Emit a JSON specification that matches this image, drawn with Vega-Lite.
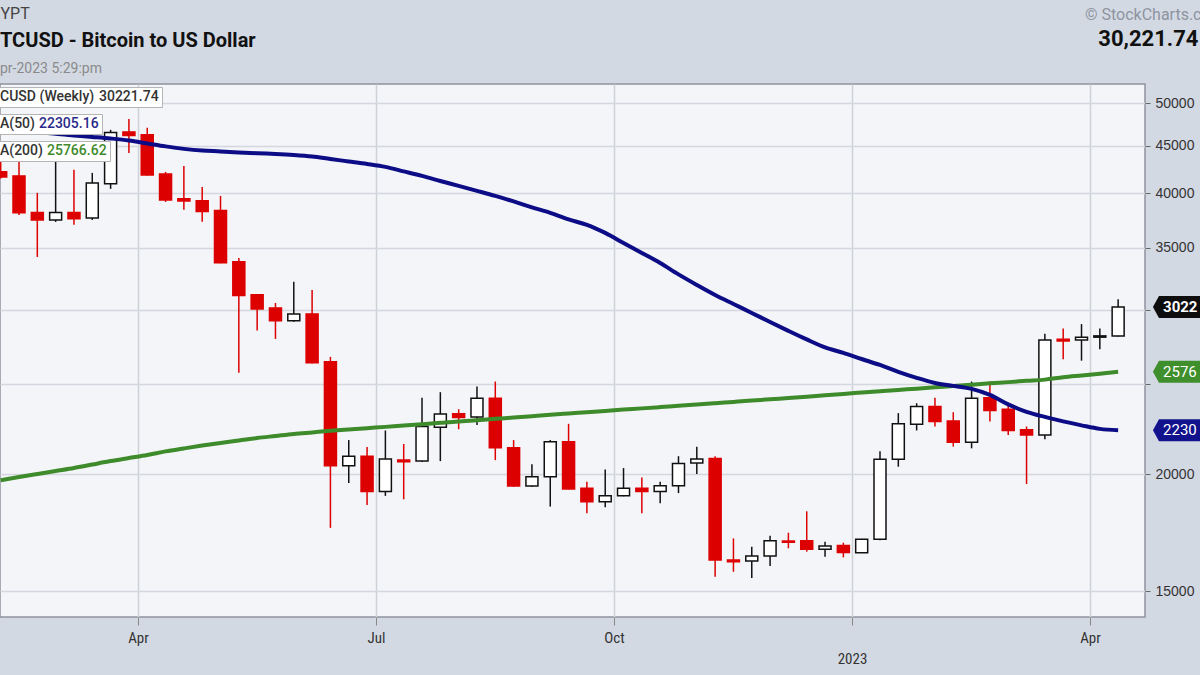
{
  "$schema": "https://vega.github.io/schema/vega-lite/v6.json",
  "width": 1145,
  "height": 533,
  "autosize": "none",
  "padding": {"left": 0, "top": 84, "right": 55, "bottom": 58},
  "background": "#d3d9e3",
  "view": {"fill": "#f4f5f9", "stroke": "#8e939c", "strokeWidth": 1.5},
  "config": {"font": "Roboto"},
  "title": {
    "text": "TCUSD - Bitcoin to US Dollar",
    "subtitle": "pr-2023 5:29:pm",
    "anchor": "start",
    "frame": "group",
    "offset": 10,
    "dy": 81,
    "font": "Roboto",
    "fontSize": 20,
    "fontWeight": "bold",
    "color": "#111111",
    "subtitleFont": "Roboto",
    "subtitleFontSize": 14,
    "subtitleColor": "#8a8a8a",
    "subtitlePadding": 11
  },
  "data": {"values": [
    {"date": "2022-02-07T00:00:00", "open": 42190, "high": 45000, "low": 41500, "close": 41660, "ma50": 47030, "ma200": 19720},
    {"date": "2022-02-14T00:00:00", "open": 41770, "high": 44700, "low": 37940, "close": 38130, "ma50": 46800, "ma200": 19870},
    {"date": "2022-02-21T00:00:00", "open": 38160, "high": 40060, "low": 34200, "close": 37470, "ma50": 46570, "ma200": 20020},
    {"date": "2022-02-28T00:00:00", "open": 37470, "high": 45300, "low": 37290, "close": 38160, "ma50": 46335, "ma200": 20170},
    {"date": "2022-03-07T00:00:00", "open": 38160, "high": 42400, "low": 37020, "close": 37590, "ma50": 46160, "ma200": 20320},
    {"date": "2022-03-14T00:00:00", "open": 37660, "high": 42080, "low": 37470, "close": 41050, "ma50": 45990, "ma200": 20495},
    {"date": "2022-03-21T00:00:00", "open": 40980, "high": 46800, "low": 40455, "close": 46480, "ma50": 45810, "ma200": 20670},
    {"date": "2022-03-28T00:00:00", "open": 46560, "high": 48070, "low": 44210, "close": 46140, "ma50": 45585, "ma200": 20825},
    {"date": "2022-04-04T00:00:00", "open": 46220, "high": 47030, "low": 41800, "close": 41870, "ma50": 45255, "ma200": 20980},
    {"date": "2022-04-11T00:00:00", "open": 41975, "high": 42190, "low": 39170, "close": 39360, "ma50": 44925, "ma200": 21170},
    {"date": "2022-04-18T00:00:00", "open": 39490, "high": 42810, "low": 38415, "close": 39265, "ma50": 44650, "ma200": 21325},
    {"date": "2022-04-25T00:00:00", "open": 39290, "high": 40650, "low": 37310, "close": 38255, "ma50": 44465, "ma200": 21475},
    {"date": "2022-05-02T00:00:00", "open": 38350, "high": 39760, "low": 33670, "close": 33720, "ma50": 44375, "ma200": 21615},
    {"date": "2022-05-09T00:00:00", "open": 33800, "high": 34110, "low": 25710, "close": 31100, "ma50": 44265, "ma200": 21745},
    {"date": "2022-05-16T00:00:00", "open": 31160, "high": 31200, "low": 28520, "close": 30084, "ma50": 44175, "ma200": 21880},
    {"date": "2022-05-23T00:00:00", "open": 30160, "high": 30530, "low": 27940, "close": 29220, "ma50": 44100, "ma200": 21990},
    {"date": "2022-05-30T00:00:00", "open": 29220, "high": 32170, "low": 29150, "close": 29720, "ma50": 43990, "ma200": 22100},
    {"date": "2022-06-06T00:00:00", "open": 29720, "high": 31520, "low": 26300, "close": 26350, "ma50": 43825, "ma200": 22185},
    {"date": "2022-06-13T00:00:00", "open": 26410, "high": 26730, "low": 17530, "close": 20435, "ma50": 43550, "ma200": 22270},
    {"date": "2022-06-20T00:00:00", "open": 20435, "high": 21770, "low": 19580, "close": 20920, "ma50": 43285, "ma200": 22345},
    {"date": "2022-06-27T00:00:00", "open": 20920, "high": 21400, "low": 18550, "close": 19170, "ma50": 43020, "ma200": 22420},
    {"date": "2022-07-04T00:00:00", "open": 19170, "high": 22290, "low": 18970, "close": 20770, "ma50": 42710, "ma200": 22490},
    {"date": "2022-07-11T00:00:00", "open": 20720, "high": 21560, "low": 18810, "close": 20635, "ma50": 42240, "ma200": 22570},
    {"date": "2022-07-18T00:00:00", "open": 20670, "high": 24170, "low": 20620, "close": 22510, "ma50": 41770, "ma200": 22640},
    {"date": "2022-07-25T00:00:00", "open": 22475, "high": 24500, "low": 20670, "close": 23210, "ma50": 41250, "ma200": 22715},
    {"date": "2022-08-01T00:00:00", "open": 23230, "high": 23490, "low": 22360, "close": 23010, "ma50": 40755, "ma200": 22790},
    {"date": "2022-08-08T00:00:00", "open": 23050, "high": 24840, "low": 22600, "close": 24130, "ma50": 40260, "ma200": 22865},
    {"date": "2022-08-15T00:00:00", "open": 24130, "high": 25150, "low": 20720, "close": 21365, "ma50": 39760, "ma200": 22940},
    {"date": "2022-08-22T00:00:00", "open": 21365, "high": 21770, "low": 19400, "close": 19440, "ma50": 39220, "ma200": 23010},
    {"date": "2022-08-29T00:00:00", "open": 19440, "high": 20505, "low": 19400, "close": 19885, "ma50": 38650, "ma200": 23085},
    {"date": "2022-09-05T00:00:00", "open": 19885, "high": 21770, "low": 18475, "close": 21680, "ma50": 38130, "ma200": 23170},
    {"date": "2022-09-12T00:00:00", "open": 21680, "high": 22660, "low": 19280, "close": 19300, "ma50": 37515, "ma200": 23245},
    {"date": "2022-09-19T00:00:00", "open": 19330, "high": 19640, "low": 18170, "close": 18700, "ma50": 37020, "ma200": 23320},
    {"date": "2022-09-26T00:00:00", "open": 18700, "high": 20250, "low": 18450, "close": 18980, "ma50": 36290, "ma200": 23395},
    {"date": "2022-10-03T00:00:00", "open": 18980, "high": 20315, "low": 18950, "close": 19330, "ma50": 35400, "ma200": 23470},
    {"date": "2022-10-10T00:00:00", "open": 19330, "high": 19850, "low": 18170, "close": 19170, "ma50": 34540, "ma200": 23540},
    {"date": "2022-10-17T00:00:00", "open": 19170, "high": 19640, "low": 18630, "close": 19450, "ma50": 33695, "ma200": 23615},
    {"date": "2022-10-24T00:00:00", "open": 19450, "high": 20920, "low": 19100, "close": 20550, "ma50": 32760, "ma200": 23695},
    {"date": "2022-10-31T00:00:00", "open": 20570, "high": 21420, "low": 20020, "close": 20770, "ma50": 31920, "ma200": 23770},
    {"date": "2022-11-07T00:00:00", "open": 20800, "high": 20920, "low": 15540, "close": 16190, "ma50": 31140, "ma200": 23845},
    {"date": "2022-11-14T00:00:00", "open": 16190, "high": 17080, "low": 15730, "close": 16125, "ma50": 30455, "ma200": 23920},
    {"date": "2022-11-21T00:00:00", "open": 16150, "high": 16730, "low": 15490, "close": 16350, "ma50": 29790, "ma200": 23995},
    {"date": "2022-11-28T00:00:00", "open": 16350, "high": 17190, "low": 15960, "close": 16980, "ma50": 29130, "ma200": 24075},
    {"date": "2022-12-05T00:00:00", "open": 16970, "high": 17320, "low": 16670, "close": 16920, "ma50": 28500, "ma200": 24150},
    {"date": "2022-12-12T00:00:00", "open": 16980, "high": 18260, "low": 16530, "close": 16630, "ma50": 27905, "ma200": 24230},
    {"date": "2022-12-19T00:00:00", "open": 16630, "high": 16940, "low": 16320, "close": 16760, "ma50": 27365, "ma200": 24310},
    {"date": "2022-12-26T00:00:00", "open": 16780, "high": 16900, "low": 16300, "close": 16500, "ma50": 26995, "ma200": 24395},
    {"date": "2023-01-02T00:00:00", "open": 16490, "high": 17060, "low": 16490, "close": 17050, "ma50": 26590, "ma200": 24475},
    {"date": "2023-01-09T00:00:00", "open": 17050, "high": 21180, "low": 17000, "close": 20760, "ma50": 26200, "ma200": 24555},
    {"date": "2023-01-16T00:00:00", "open": 20760, "high": 23265, "low": 20385, "close": 22660, "ma50": 25760, "ma200": 24635},
    {"date": "2023-01-23T00:00:00", "open": 22640, "high": 23840, "low": 22290, "close": 23645, "ma50": 25380, "ma200": 24715},
    {"date": "2023-01-30T00:00:00", "open": 23645, "high": 24170, "low": 22510, "close": 22790, "ma50": 25065, "ma200": 24795},
    {"date": "2023-02-06T00:00:00", "open": 22820, "high": 23320, "low": 21420, "close": 21650, "ma50": 24885, "ma200": 24880},
    {"date": "2023-02-13T00:00:00", "open": 21650, "high": 25150, "low": 21330, "close": 24130, "ma50": 24700, "ma200": 24960},
    {"date": "2023-02-20T00:00:00", "open": 24170, "high": 25150, "low": 22790, "close": 23410, "ma50": 24335, "ma200": 25040},
    {"date": "2023-02-27T00:00:00", "open": 23490, "high": 23840, "low": 22040, "close": 22290, "ma50": 23770, "ma200": 25115},
    {"date": "2023-03-06T00:00:00", "open": 22330, "high": 22510, "low": 19530, "close": 22040, "ma50": 23340, "ma200": 25195},
    {"date": "2023-03-13T00:00:00", "open": 22040, "high": 28290, "low": 21810, "close": 27870, "ma50": 23050, "ma200": 25270},
    {"date": "2023-03-20T00:00:00", "open": 27920, "high": 28660, "low": 26570, "close": 27800, "ma50": 22795, "ma200": 25420},
    {"date": "2023-03-27T00:00:00", "open": 27870, "high": 28980, "low": 26480, "close": 28060, "ma50": 22575, "ma200": 25530},
    {"date": "2023-04-03T00:00:00", "open": 28060, "high": 28660, "low": 27240, "close": 28150, "ma50": 22380, "ma200": 25640},
    {"date": "2023-04-10T00:00:00", "open": 28150, "high": 30820, "low": 28100, "close": 30221.74, "ma50": 22305.16, "ma200": 25766.62}
  ]},
  "encoding": {
    "x": {
      "field": "date",
      "type": "temporal",
      "scale": {"padding": 0, "domain": [
        {"year": 2022, "month": 2, "date": 6, "hours": 17, "minutes": 45},
        {"year": 2023, "month": 4, "date": 20, "hours": 6, "minutes": 15}
      ]},
      "axis": {
        "values": [
          {"year": 2022, "month": 3, "date": 31, "hours": 11},
          {"year": 2022, "month": 6, "date": 30, "hours": 10},
          {"year": 2022, "month": 9, "date": 29, "hours": 9},
          {"year": 2022, "month": 12, "date": 29, "hours": 7},
          {"year": 2023, "month": 3, "date": 30, "hours": 6}
        ],
        "labelExpr": "month(datum.value) == 11 ? ['', '2023'] : month(datum.value) == 2 ? 'Apr' : month(datum.value) == 5 ? 'Jul' : 'Oct'",
        "grid": true,
        "gridColor": "#cdd1d8",
        "gridWidth": 1.5,
        "domain": false,
        "tickSize": 8,
        "tickColor": "#888888",
        "labelFont": "Liberation Sans Narrow, Roboto Condensed, Liberation Sans",
        "labelFontSize": 15,
        "labelColor": "#333333",
        "labelPadding": 5,
        "labelLineHeight": 21,
        "labelFlush": false,
        "labelOverlap": false,
        "title": "© StockCharts.c",
        "titleX": 1201,
        "titleY": -603,
        "titleAlign": "right",
        "titleBaseline": "middle",
        "titleFont": "Roboto",
        "titleFontSize": 16,
        "titleFontWeight": "normal",
        "titleColor": "#8d94a0"
      }
    }
  },
  "layer": [
    {
      "mark": {"type": "rule", "strokeWidth": 1.5},
      "encoding": {
        "y": {
          "field": "low",
          "type": "quantitative",
          "scale": {"type": "log", "domain": [14070, 52400]},
          "axis": {
            "orient": "right",
            "values": [15000, 20000, 25000, 30000, 35000, 40000, 45000, 50000],
            "format": "d",
            "labelExpr": "datum.value == 30000 || datum.value == 25000 ? '' : datum.label",
            "grid": true,
            "gridColor": "#d4d7de",
            "gridWidth": 1.5,
            "domain": false,
            "tickSize": 5,
            "tickColor": "#666666",
            "labelFont": "Liberation Sans",
            "labelFontSize": 14,
            "labelColor": "#333333",
            "labelPadding": 5,
            "title": "30,221.74",
            "titleAngle": 0,
            "titleX": 53,
            "titleY": -46,
            "titleAlign": "right",
            "titleBaseline": "middle",
            "titleFont": "Roboto",
            "titleFontSize": 22,
            "titleFontWeight": "bold",
            "titleColor": "#111111"
          }
        },
        "y2": {"field": "high"},
        "color": {"condition": {"test": "datum.close >= datum.open", "value": "#111111"}, "value": "#dd0000"}
      }
    },
    {
      "mark": {"type": "bar", "width": 12, "strokeWidth": 1.5},
      "encoding": {
        "y": {"field": "open", "type": "quantitative", "scale": {"type": "log", "domain": [14070, 52400]}, "axis": null},
        "y2": {"field": "close"},
        "fill": {"condition": {"test": "datum.close >= datum.open", "value": "#ffffff"}, "value": "#dd0000"},
        "stroke": {"condition": {"test": "datum.close >= datum.open", "value": "#111111"}, "value": "#dd0000"}
      }
    },
    {
      "mark": {"type": "line", "strokeWidth": 4, "interpolate": "monotone"},
      "encoding": {
        "y": {
          "field": "ma200",
          "type": "quantitative",
          "scale": {"type": "log", "domain": [14070, 52400]},
          "axis": {
            "orient": "left",
            "labels": false,
            "ticks": false,
            "domain": false,
            "grid": false,
            "title": "YPT",
            "titleAngle": 0,
            "titleX": 0,
            "titleY": -71,
            "titleAlign": "left",
            "titleBaseline": "middle",
            "titleFont": "Roboto",
            "titleFontSize": 16,
            "titleFontWeight": "normal",
            "titleColor": "#444444"
          }
        },
        "color": {
          "datum": "25766.62",
          "scale": {"range": ["#3d8b2a"]},
          "legend": {
            "title": "A(200)",
            "orient": "none",
            "legendX": -3,
            "legendY": 57,
            "titleOrient": "left",
            "fillColor": "#ffffff",
            "strokeColor": "#b5b5b5",
            "padding": 3,
            "symbolSize": 0,
            "symbolOpacity": 0,
            "symbolStrokeWidth": 0,
            "labelOffset": 0,
            "titlePadding": -10,
            "titleFont": "Roboto",
            "titleFontSize": 14,
            "titleFontWeight": 500,
            "titleColor": "#333333",
            "labelFont": "Roboto",
            "labelFontSize": 14,
            "labelFontWeight": 500,
            "labelColor": "#3f8a2c"
          }
        }
      }
    },
    {
      "mark": {"type": "line", "strokeWidth": 4, "interpolate": "monotone"},
      "encoding": {
        "y": {"field": "ma50", "type": "quantitative", "scale": {"type": "log", "domain": [14070, 52400]}, "axis": null},
        "color": {
          "datum": "22305.16",
          "scale": {"range": ["#0c0c86"]},
          "legend": {
            "title": "A(50)",
            "orient": "none",
            "legendX": -3,
            "legendY": 30,
            "titleOrient": "left",
            "fillColor": "#ffffff",
            "strokeColor": "#b5b5b5",
            "padding": 3,
            "symbolSize": 0,
            "symbolOpacity": 0,
            "symbolStrokeWidth": 0,
            "labelOffset": 0,
            "titlePadding": -10,
            "titleFont": "Roboto",
            "titleFontSize": 14,
            "titleFontWeight": 500,
            "titleColor": "#333333",
            "labelFont": "Roboto",
            "labelFontSize": 14,
            "labelFontWeight": 500,
            "labelColor": "#2a2a8a"
          }
        }
      }
    },
    {
      "data": {"values": [
        {"date": "2023-04-27T22:00:00", "price": 30221.74, "name": "last", "label": "3022"},
        {"date": "2023-04-27T22:00:00", "price": 25766.62, "name": "ma200", "label": "2576"},
        {"date": "2023-04-27T22:00:00", "price": 22305.16, "name": "ma50", "label": "2230"}
      ]},
      "mark": {"type": "point", "filled": true, "size": 484, "opacity": 1, "strokeWidth": 0},
      "encoding": {
        "y": {"field": "price", "type": "quantitative", "scale": {"type": "log", "domain": [14070, 52400]}, "axis": null},
        "color": {"field": "name", "type": "nominal", "scale": {"domain": ["last", "ma200", "ma50"], "range": ["#0d0d0d", "#3f8f2c", "#12128c"]}, "legend": null},
        "shape": {
          "datum": "30221.74",
          "scale": {"range": ["M -1.1 0 L -0.55 -1 L 5 -1 L 5 1 L -0.55 1 Z"]},
          "legend": {
            "title": "CUSD (Weekly)",
            "orient": "none",
            "legendX": -3,
            "legendY": 3,
            "titleOrient": "left",
            "fillColor": "#ffffff",
            "strokeColor": "#b5b5b5",
            "padding": 3,
            "symbolSize": 0,
            "symbolOpacity": 0,
            "symbolStrokeWidth": 0,
            "labelOffset": 0,
            "titlePadding": -10,
            "titleFont": "Roboto",
            "titleFontSize": 14,
            "titleFontWeight": 500,
            "titleColor": "#333333",
            "labelFont": "Roboto",
            "labelFontSize": 14,
            "labelFontWeight": 500,
            "labelColor": "#333333"
          }
        }
      }
    },
    {
      "data": {"values": [
        {"date": "2023-04-27T22:00:00", "price": 30221.74, "name": "last", "label": "3022"},
        {"date": "2023-04-27T22:00:00", "price": 25766.62, "name": "ma200", "label": "2576"},
        {"date": "2023-04-27T22:00:00", "price": 22305.16, "name": "ma50", "label": "2230"}
      ]},
      "transform": [{"filter": "datum.name == 'last'"}],
      "mark": {"type": "text", "align": "left", "baseline": "middle", "dx": -2, "font": "Roboto", "fontSize": 15, "fontWeight": "bold", "color": "#ffffff"},
      "encoding": {
        "y": {"field": "price", "type": "quantitative", "scale": {"type": "log", "domain": [14070, 52400]}, "axis": null},
        "text": {"field": "label"}
      }
    },
    {
      "data": {"values": [
        {"date": "2023-04-27T22:00:00", "price": 30221.74, "name": "last", "label": "3022"},
        {"date": "2023-04-27T22:00:00", "price": 25766.62, "name": "ma200", "label": "2576"},
        {"date": "2023-04-27T22:00:00", "price": 22305.16, "name": "ma50", "label": "2230"}
      ]},
      "transform": [{"filter": "datum.name != 'last'"}],
      "mark": {"type": "text", "align": "left", "baseline": "middle", "dx": -2, "font": "Roboto", "fontSize": 15, "fontWeight": "normal", "color": "#ffffff"},
      "encoding": {
        "y": {"field": "price", "type": "quantitative", "scale": {"type": "log", "domain": [14070, 52400]}, "axis": null},
        "text": {"field": "label"}
      }
    }
  ],
  "resolve": {"scale": {"color": "independent"}, "axis": {"y": "independent"}}
}
